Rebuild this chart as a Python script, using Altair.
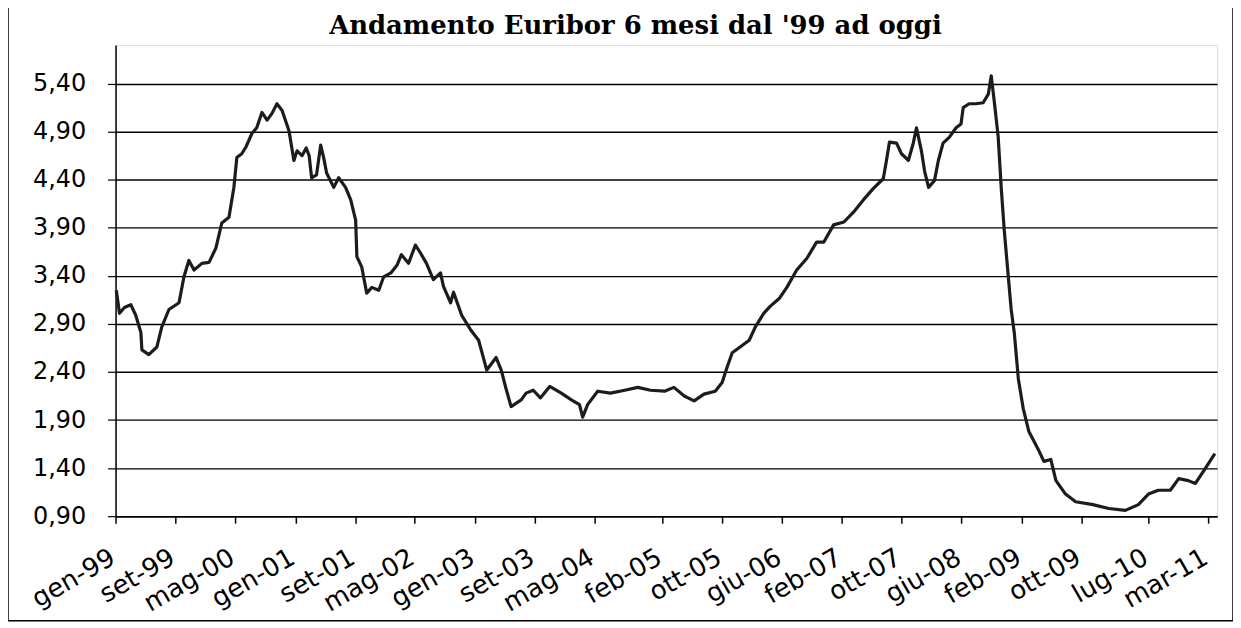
import altair as alt
import pandas as pd

# Euribor 6 mesi
dates = [
    "1999-01-04", "1999-01-17", "1999-02-06", "1999-03-04", "1999-03-24", "1999-04-14", "1999-04-18", "1999-05-16",
    "1999-06-18", "1999-07-08", "1999-08-06", "1999-09-16", "1999-10-06", "1999-10-26", "1999-11-16", "1999-12-18",
    "2000-01-16", "2000-02-13", "2000-03-08", "2000-04-06", "2000-04-26", "2000-05-08", "2000-05-28", "2000-06-14",
    "2000-07-08", "2000-07-28", "2000-08-18", "2000-09-08", "2000-09-28", "2000-10-18", "2000-11-08", "2000-12-06", "2000-12-26",
    "2001-01-08", "2001-01-28", "2001-02-14", "2001-02-26", "2001-03-08", "2001-03-28", "2001-04-14", "2001-04-26",
    "2001-05-08", "2001-06-06", "2001-06-26", "2001-07-24", "2001-08-14", "2001-09-03", "2001-09-08", "2001-09-28",
    "2001-10-18", "2001-11-08", "2001-12-06", "2001-12-26",
    "2002-01-24", "2002-02-18", "2002-03-08", "2002-04-06", "2002-05-04", "2002-05-24", "2002-06-18", "2002-07-16",
    "2002-08-14", "2002-08-26", "2002-09-24", "2002-10-06", "2002-11-08", "2002-12-14",
    "2003-01-16", "2003-02-18", "2003-03-28", "2003-04-18", "2003-05-08", "2003-05-28", "2003-07-08", "2003-07-28",
    "2003-08-26", "2003-09-24", "2003-11-01", "2003-12-18",
    "2004-01-28", "2004-03-01", "2004-03-14", "2004-04-03", "2004-05-14", "2004-07-05", "2004-09-01", "2004-10-24", "2004-12-15",
    "2005-02-10", "2005-03-20", "2005-05-01", "2005-06-10", "2005-07-20", "2005-09-04", "2005-10-02", "2005-10-22",
    "2005-11-12", "2005-12-14",
    "2006-01-20", "2006-02-14", "2006-03-20", "2006-04-14", "2006-05-24", "2006-06-22", "2006-08-01", "2006-09-11",
    "2006-10-21", "2006-11-19", "2006-12-29",
    "2007-02-09", "2007-03-19", "2007-04-29", "2007-06-09", "2007-07-19", "2007-08-01", "2007-08-13", "2007-09-11",
    "2007-10-01", "2007-10-29", "2007-11-18", "2007-12-01", "2007-12-21",
    "2008-01-03", "2008-01-19", "2008-02-12", "2008-02-28", "2008-03-18", "2008-04-12", "2008-05-10", "2008-05-30",
    "2008-06-08", "2008-07-02", "2008-07-30", "2008-08-28", "2008-09-18", "2008-09-30", "2008-10-12", "2008-10-28",
    "2008-11-10", "2008-11-22", "2008-12-08", "2008-12-20",
    "2009-01-02", "2009-01-18", "2009-02-07", "2009-03-02", "2009-04-08", "2009-05-02", "2009-05-30", "2009-06-20",
    "2009-07-29", "2009-09-08", "2009-11-17",
    "2010-01-21", "2010-03-29", "2010-05-21", "2010-07-01", "2010-08-10", "2010-09-28", "2010-11-01", "2010-12-10",
    "2011-01-08", "2011-02-18", "2011-03-28",
]

values = [
    3.25, 3.01, 3.07, 3.10, 2.99, 2.81, 2.63, 2.58,
    2.66, 2.87, 3.05, 3.12, 3.39, 3.56, 3.46, 3.53,
    3.54, 3.69, 3.95, 4.01, 4.32, 4.63, 4.67, 4.74,
    4.88, 4.94, 5.10, 5.02, 5.09, 5.19, 5.12, 4.91, 4.60,
    4.70, 4.65, 4.73, 4.65, 4.42, 4.45, 4.76, 4.63,
    4.47, 4.32, 4.42, 4.32, 4.19, 3.98, 3.60, 3.49,
    3.22, 3.28, 3.25, 3.39,
    3.43, 3.51, 3.62, 3.53, 3.72, 3.64, 3.53, 3.36,
    3.43, 3.29, 3.12, 3.23, 2.99, 2.84,
    2.73, 2.42, 2.55, 2.42, 2.22, 2.04, 2.11, 2.18,
    2.21, 2.13, 2.25, 2.18,
    2.11, 2.06, 1.93, 2.06, 2.20, 2.18, 2.21, 2.24, 2.21,
    2.20, 2.24, 2.15, 2.10, 2.17, 2.20, 2.29, 2.45,
    2.60, 2.66,
    2.73, 2.87, 3.01, 3.08, 3.17, 3.28, 3.46, 3.58,
    3.75, 3.75, 3.93,
    3.96, 4.06, 4.19, 4.31, 4.41, 4.60, 4.79, 4.78,
    4.67, 4.60, 4.78, 4.94, 4.70,
    4.49, 4.32, 4.39, 4.60, 4.78, 4.84, 4.94, 4.98,
    5.15, 5.19, 5.19, 5.20, 5.29, 5.48, 5.22, 4.85,
    4.30, 3.87, 3.40, 3.05,
    2.80, 2.33, 2.02, 1.78, 1.60, 1.47, 1.49, 1.27,
    1.13, 1.05, 1.02,
    0.98, 0.96, 1.02, 1.13, 1.17, 1.17, 1.29, 1.27,
    1.24, 1.40, 1.55,
]

# etichette dell'asse x (anno, mese)
tick_months = [
    (1999, 1), (1999, 9), (2000, 5), (2001, 1), (2001, 9), (2002, 5), (2003, 1), (2003, 9),
    (2004, 5), (2005, 2), (2005, 10), (2006, 6), (2007, 2), (2007, 10), (2008, 6), (2009, 2),
    (2009, 10), (2010, 7), (2011, 3),
]
month_names = ["gen", "feb", "mar", "apr", "mag", "giu", "lug", "ago", "set", "ott", "nov", "dic"]
y_ticks = [0.90, 1.40, 1.90, 2.40, 2.90, 3.40, 3.90, 4.40, 4.90, 5.40]

title_text = "Andamento Euribor 6 mesi dal '99 ad oggi"

assert len(dates) == len(values)
df = pd.DataFrame({"data": dates, "euribor": values})

names_js = "[" + ",".join("'" + m + "'" for m in month_names) + "]"
x_label_expr = names_js + "[utcmonth(datum.value)] + '-' + utcFormat(datum.value, '%y')"

x_enc = alt.X(
    "data:T",
    scale=alt.Scale(
        type="utc",
        domain=[
            alt.DateTime(year=1999, month=1, date=1, utc=True),
            alt.DateTime(year=2011, month=4, date=6, utc=True),
        ],
    ),
    axis=alt.Axis(
        values=[alt.DateTime(year=y, month=m, date=1, utc=True) for y, m in tick_months],
        labelExpr=x_label_expr,
        labelAngle=-30,
        labelAlign="right",
        labelBaseline="middle",
        labelPadding=32,
        labelOffset=-3,
        labelFont="DejaVu Sans",
        labelFontSize=26,
        labelColor="black",
        labelOverlap=False,
        tickSize=7,
        tickColor="black",
        tickWidth=1.5,
        domainColor="black",
        domainWidth=1.5,
        grid=False,
        title=None,
    ),
)

y_enc = alt.Y(
    "euribor:Q",
    scale=alt.Scale(domain=[0.9, 5.8], nice=False, zero=False),
    axis=alt.Axis(
        values=y_ticks,
        labelExpr="replace(format(datum.value, '.2f'), '.', ',')",
        labelFont="DejaVu Sans",
        labelFontSize=24,
        labelColor="black",
        labelPadding=22,
        tickSize=8,
        tickColor="black",
        tickWidth=1.2,
        domainColor="black",
        domainWidth=1.5,
        grid=True,
        gridColor="black",
        gridWidth=1.4,
        gridOpacity=1,
        title=None,
    ),
)

line = alt.Chart(df).mark_line(color="#1c1c1c", strokeWidth=3.2, strokeJoin="round").encode(x=x_enc, y=y_enc)

frame = alt.Chart(alt.Data(values=[{}])).mark_rect(
    filled=False, stroke="black", strokeWidth=1.5
).encode(
    x=alt.value(-108), x2=alt.value(1122), y=alt.value(-38), y2=alt.value(578)
)

chart = alt.layer(frame, line).properties(
    width=1106,
    height=473,
    title=alt.TitleParams(
        text=title_text,
        font="DejaVu Serif",
        fontSize=26,
        fontWeight="bold",
        color="black",
        anchor="middle",
        baseline="alphabetic",
        offset=10,
        dx=-31,
        dy=64,
    ),
    autosize=alt.AutoSizeParams(type="none"),
    padding={"left": 108, "top": 36, "right": 16, "bottom": 106},
).configure_view(
    stroke="#444", strokeWidth=1.5
).configure(background="white")

chart.save("out.html", embed_options={"renderer": "svg", "actions": False})
